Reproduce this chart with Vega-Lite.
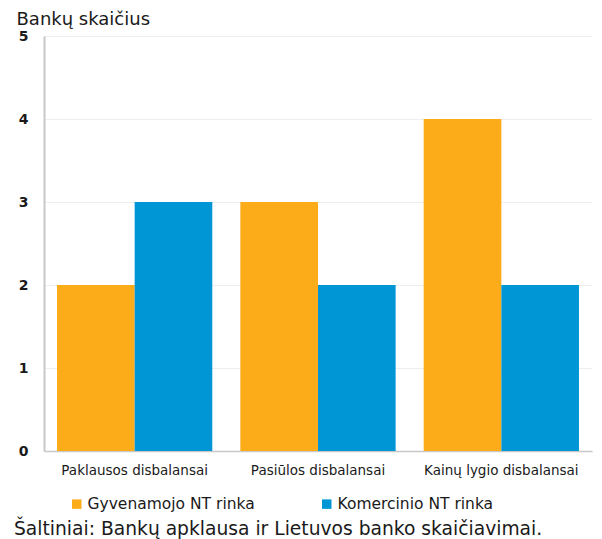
{
  "$schema": "https://vega.github.io/schema/vega-lite/v6.json",
  "width": 548,
  "height": 415,
  "autosize": "none",
  "padding": {"left": 44, "top": 36, "right": 10, "bottom": 88},
  "background": "white",
  "config": {
    "font": "DejaVu Sans",
    "view": {"stroke": null}
  },
  "title": {
    "text": "Šaltiniai: Bankų apklausa ir Lietuvos banko skaičiavimai.",
    "orient": "bottom",
    "anchor": "start",
    "frame": "group",
    "dx": -30,
    "offset": 7,
    "fontSize": 18.7,
    "fontWeight": "normal",
    "color": "#1A1A1A"
  },
  "data": {
    "values": [
      {"kategorija": "Paklausos disbalansai", "rinka": "Gyvenamojo NT rinka", "reiksme": 2},
      {"kategorija": "Paklausos disbalansai", "rinka": "Komercinio NT rinka", "reiksme": 3},
      {"kategorija": "Pasiūlos disbalansai", "rinka": "Gyvenamojo NT rinka", "reiksme": 3},
      {"kategorija": "Pasiūlos disbalansai", "rinka": "Komercinio NT rinka", "reiksme": 2},
      {"kategorija": "Kainų lygio disbalansai", "rinka": "Gyvenamojo NT rinka", "reiksme": 4},
      {"kategorija": "Kainų lygio disbalansai", "rinka": "Komercinio NT rinka", "reiksme": 2}
    ]
  },
  "mark": {"type": "bar"},
  "encoding": {
    "x": {
      "field": "kategorija",
      "type": "nominal",
      "sort": null,
      "scale": {"paddingInner": 0.153, "paddingOuter": 0.071},
      "axis": {
        "title": null,
        "labelAngle": 0,
        "labelFontSize": 13.5,
        "labelColor": "#1A1A1A",
        "labelPadding": 12,
        "ticks": false,
        "domainColor": "#C8C8C8",
        "domainWidth": 1.5
      }
    },
    "xOffset": {"field": "rinka", "type": "nominal", "sort": null, "scale": {"paddingInner": 0, "paddingOuter": 0}},
    "y": {
      "field": "reiksme",
      "type": "quantitative",
      "scale": {"domain": [0, 5], "nice": false},
      "axis": {
        "title": "Bankų skaičius",
        "titleAngle": 0,
        "titleAlign": "left",
        "titleBaseline": "alphabetic",
        "titleX": -28,
        "titleY": -12,
        "titleFontSize": 18,
        "titleFontWeight": "normal",
        "titleColor": "#1A1A1A",
        "values": [0, 1, 2, 3, 4, 5],
        "labelFontSize": 14,
        "labelFontWeight": "bold",
        "labelColor": "#1A1A1A",
        "labelPadding": 21,
        "labelAlign": "center",
        "ticks": false,
        "domainColor": "#C8C8C8",
        "domainWidth": 2,
        "gridColor": "#EEEEEE",
        "gridWidth": 1
      }
    },
    "color": {
      "field": "rinka",
      "type": "nominal",
      "sort": null,
      "scale": {"range": ["#FBAC18", "#0096D6"]},
      "legend": {
        "title": null,
        "orient": "none",
        "legendX": 25,
        "legendY": 460,
        "padding": 0,
        "direction": "horizontal",
        "symbolType": "square",
        "symbolSize": 90,
        "symbolStrokeWidth": 0,
        "labelFontSize": 15.5,
        "labelColor": "#1A1A1A",
        "labelLimit": 400,
        "columnPadding": 64,
        "labelOffset": 3
      }
    }
  }
}
